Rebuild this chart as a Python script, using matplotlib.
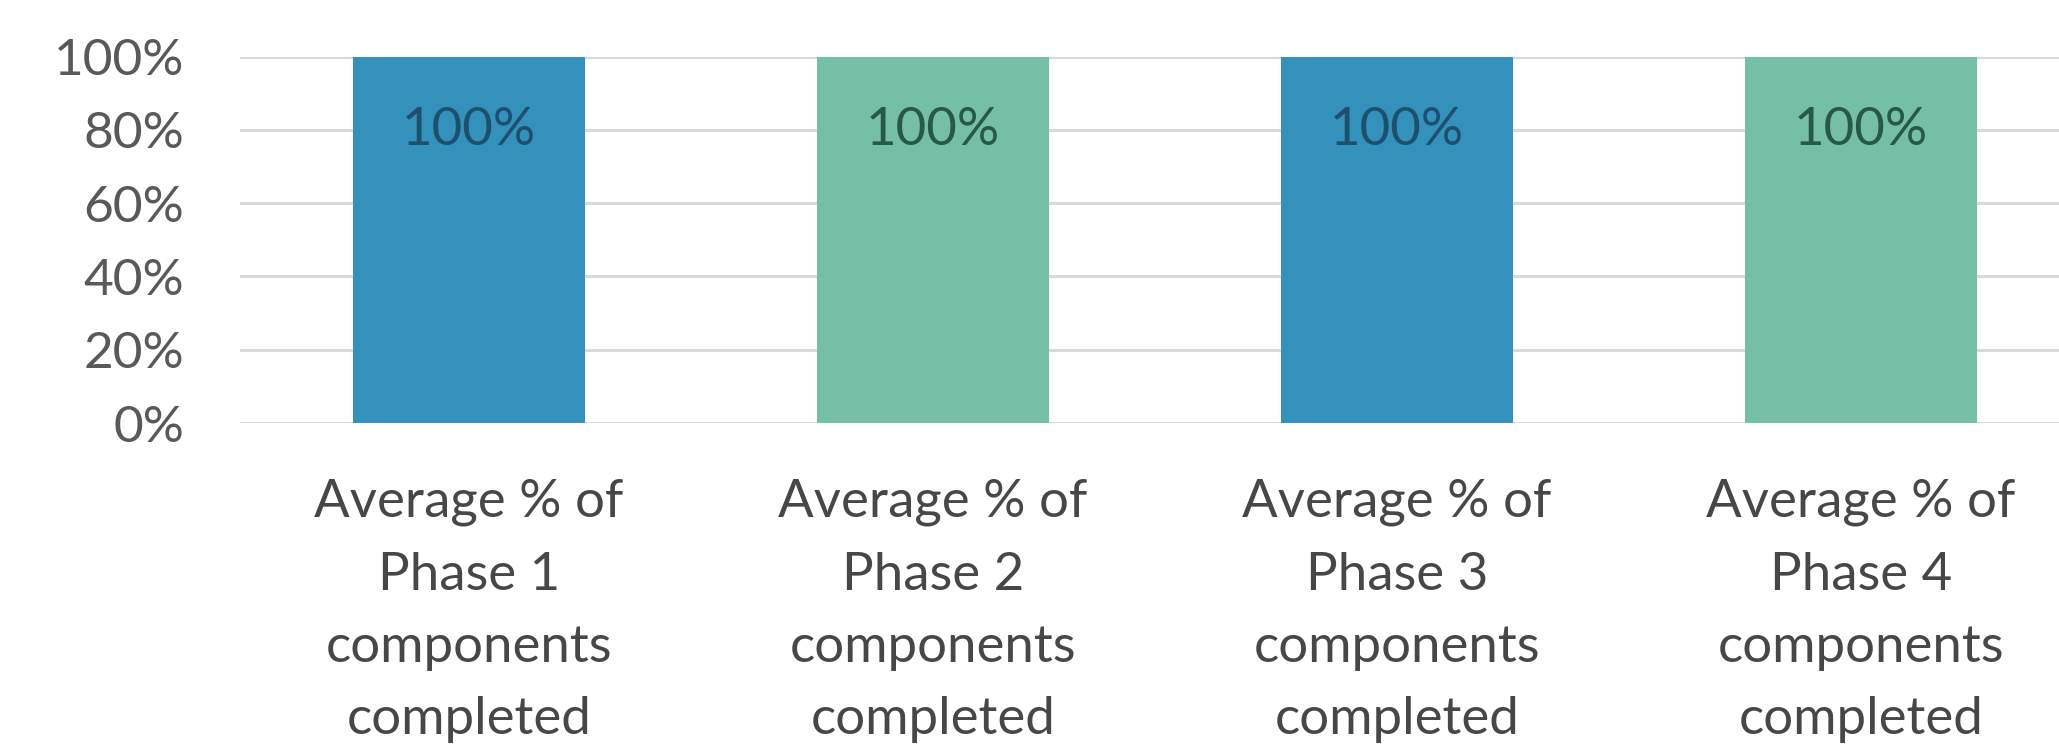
import matplotlib
matplotlib.use("Agg")
import matplotlib.pyplot as plt
from matplotlib.ticker import PercentFormatter

categories = [
    "Average % of\nPhase 1\ncomponents\ncompleted",
    "Average % of\nPhase 2\ncomponents\ncompleted",
    "Average % of\nPhase 3\ncomponents\ncompleted",
    "Average % of\nPhase 4\ncomponents\ncompleted",
]
values = [100, 100, 100, 100]
bar_labels = ["100%", "100%", "100%", "100%"]
yticks = [0, 20, 40, 60, 80, 100]

bar_colors = ["#3491BC", "#76BFA7", "#3491BC", "#76BFA7"]
label_colors = ["#1E4F6C", "#27594A", "#1E4F6C", "#27594A"]

plt.rcParams['font.family'] = ['Lato', 'DejaVu Sans']

W, H = 2059, 746
fig = plt.figure(figsize=(W / 100, H / 100), dpi=100)
ax = fig.add_axes([240 / W, (H - 423) / H, (W - 240) / W, (423 - 56.5) / H])

x = list(range(len(categories)))
bars = ax.bar(x, values, width=0.5, color=bar_colors, zorder=3)

ax.set_xlim(-0.4935, 3.427)
ax.set_ylim(0, 100)
ax.set_yticks(yticks)
ax.yaxis.set_major_formatter(PercentFormatter(decimals=0))
ax.grid(axis='y', color='#D9D9D9', linewidth=2.2, zorder=0)
ax.set_axisbelow(True)
for s in ax.spines.values():
    s.set_visible(False)

ax.tick_params(axis='y', length=0, pad=40, labelsize=37, labelcolor='#595959')
ax.tick_params(axis='x', length=0, pad=40, labelsize=38, labelcolor='#474747')
ax.set_xticks(x)
ax.set_xticklabels(categories, linespacing=1.67)

texts = ax.bar_label(bars, labels=bar_labels, label_type='edge', padding=-70, fontsize=38)
for t, c in zip(texts, label_colors):
    t.set_color(c)

fig.savefig("out.png", dpi=100, facecolor='white')
